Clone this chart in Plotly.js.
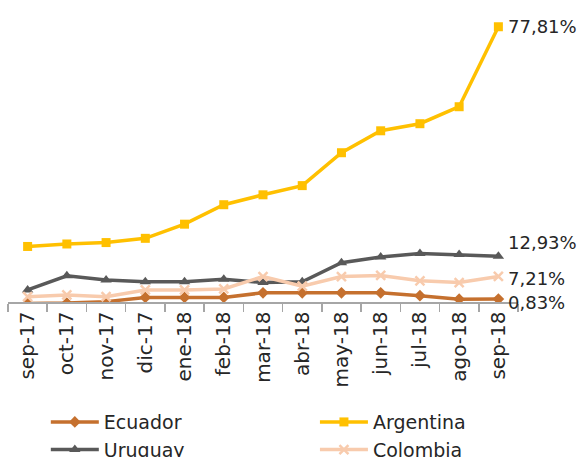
<!DOCTYPE html>
<html>
<head>
<meta charset="utf-8">
<script src="https://cdn.plot.ly/plotly-3.0.1.min.js"></script>
<style>html,body{margin:0;padding:0;background:#fff;}#chart{width:580px;height:457px;}</style>
</head>
<body>
<div id="chart"></div>
<script>
const categories = ["sep-17","oct-17","nov-17","dic-17","ene-18","feb-18","mar-18","abr-18","may-18","jun-18","jul-18","ago-18","sep-18"];
const ecuador   = [-0.4, -0.3, 0.1, 1.3, 1.3, 1.3, 2.6, 2.6, 2.6, 2.6, 1.8, 0.8, 0.83];
const argentina = [15.7, 16.4, 16.8, 18.0, 22.0, 27.5, 30.3, 32.9, 42.2, 48.4, 50.4, 55.2, 77.81];
const uruguay   = [3.4, 7.4, 6.2, 5.7, 5.7, 6.4, 5.5, 5.7, 11.1, 12.7, 13.7, 13.4, 12.93];
const colombia  = [1.5, 2.0, 1.5, 3.4, 3.4, 3.7, 7.2, 4.5, 7.2, 7.5, 6.0, 5.5, 7.21];
const lastLabels = {Argentina: "77,81%", Uruguay: "12,93%", Colombia: "7,21%", Ecuador: "0,83%"};

const FONT = "'DejaVu Sans', sans-serif";
function tr(name, y, color, symbol, msize, legend, mline) {
  return {
    type: "scatter", mode: "lines+markers", name: name, x: categories, y: y,
    legend: legend,
    line: {color: color, width: 3.5},
    marker: {symbol: symbol, size: msize, color: color, line: mline || {width: 0}},
    cliponaxis: true
  };
}
const data = [
  tr("Ecuador", ecuador, "#C5702E", "diamond", 9, "legend"),
  tr("Argentina", argentina, "#FFC000", "square", 9, "legend2"),
  tr("Uruguay", uruguay, "#595959", "triangle-up", 10, "legend"),
  tr("Colombia", colombia, "#F8CBAD", "x-thin", 9, "legend2", {width: 2.5, color: "#F8CBAD"})
];
const n = categories.length - 1;
const annotations = [
  {y: argentina[n], text: lastLabels.Argentina, yshift: 0},
  {y: uruguay[n], text: lastLabels.Uruguay, yshift: 14},
  {y: colombia[n], text: lastLabels.Colombia, yshift: -2},
  {y: ecuador[n], text: lastLabels.Ecuador, yshift: -3}
].map(a => Object.assign({
  x: categories[n], xref: "x", yref: "y", xanchor: "left", yanchor: "middle",
  xshift: 8, showarrow: false, font: {family: FONT, size: 18, color: "#262626"}
}, a));

const legendBase = {
  orientation: "v", xref: "container", yref: "container",
  xanchor: "left", yanchor: "top", y: 0.118, itemwidth: 48,
  bgcolor: "rgba(0,0,0,0)",
  font: {family: FONT, size: 19, color: "#262626"}, tracegroupgap: 0
};

const layout = {
  width: 580, height: 457,
  margin: {l: 8, r: 62, t: 19, b: 155, autoexpand: false},
  paper_bgcolor: "#fff", plot_bgcolor: "#fff",
  showlegend: true,
  font: {family: FONT, color: "#262626"},
  xaxis: {
    type: "category", range: [-0.5, 12.5], tickangle: -90,
    showline: true, linecolor: "#A6A6A6", linewidth: 1.5,
    ticks: "outside", tickson: "boundaries", ticklen: 8, tickcolor: "#A6A6A6", tickwidth: 1.5,
    showgrid: false, zeroline: false, automargin: false,
    tickfont: {family: FONT, size: 20, color: "#262626"}
  },
  yaxis: {range: [0, 80], visible: false, showgrid: false, zeroline: false},
  legend: Object.assign({}, legendBase, {x: 0.079}),
  legend2: Object.assign({}, legendBase, {x: 0.543}),
  annotations: annotations
};
Plotly.newPlot("chart", data, layout, {displayModeBar: false, staticPlot: true});
</script>
</body>
</html>
